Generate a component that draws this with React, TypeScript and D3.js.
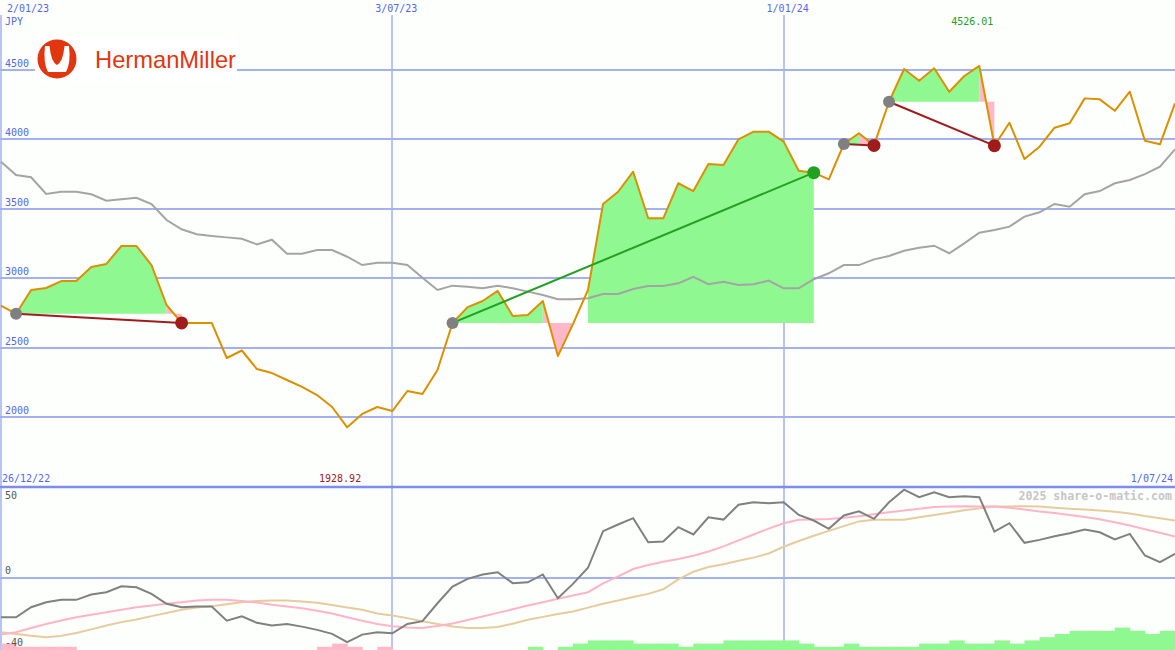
import React from 'react';
import * as d3 from 'd3';

// weekly closes, JPY (Mondays from 2/01/23)
const price = [
  2803, 2745, 2916, 2930, 2980, 2980, 3081, 3103, 3232, 3232,
  3095, 2808, 2679, 2679, 2679, 2427, 2481, 2348, 2319, 2269,
  2219, 2161, 2075, 1928.92, 2025, 2075, 2046, 2190, 2168, 2341,
  2679, 2793, 2837, 2909, 2729, 2736, 2837, 2441, 2671, 2916,
  3534, 3622, 3766, 3431, 3431, 3683, 3627, 3821, 3814, 3999,
  4054, 4054, 3982, 3773, 3759, 3711, 3965, 4042, 3955, 4269,
  4504, 4420, 4509, 4341, 4454, 4526.01, 3953, 4118, 3857, 3946,
  4082, 4114, 4293, 4286, 4204, 4341, 3989, 3963, 4258,
];

const movingAvg = [
  3838, 3742, 3726, 3606, 3622, 3622, 3604, 3558, 3568, 3579,
  3534, 3419, 3352, 3316, 3304, 3294, 3284, 3244, 3277, 3177,
  3177, 3203, 3203, 3155, 3095, 3112, 3112, 3095, 3004, 2916,
  2947, 2940, 2928, 2947, 2928, 2904, 2880, 2849, 2849, 2856,
  2887, 2887, 2923, 2945, 2945, 2964, 3011, 2957, 2975, 2952,
  2957, 2983, 2928, 2928, 2993, 3036, 3095, 3095, 3136, 3160,
  3198, 3220, 3234, 3180, 3251, 3328, 3347, 3371, 3443, 3474,
  3534, 3514, 3604, 3627, 3683, 3706, 3749, 3802, 3927,
];

const oscillator = [
  -21.9, -21.9, -16.4, -13.6, -12.3, -12.3, -9.4, -8.1, -4.8, -5.4,
  -9.0, -14.5, -16.4, -16.0, -16.0, -23.8, -21.4, -25.0, -26.5, -25.6,
  -27.1, -28.9, -31.1, -35.7, -31.5, -30.2, -30.8, -25.6, -24.1, -14.2,
  -5.0, -0.7, 1.7, 2.9, -3.1, -2.6, 1.7, -11.4, -3.5, 5.4,
  25.6, 29.3, 32.8, 19.5, 19.9, 27.8, 23.8, 33.3, 32.0, 40.2,
  41.6, 41.0, 41.6, 34.6, 31.5, 26.9, 34.3, 36.6, 32.4, 41.6,
  48.5, 44.4, 47.1, 44.4, 44.9, 44.4, 25.4, 30.0, 19.2, 20.8,
  22.8, 24.5, 26.5, 25.0, 21.0, 24.1, 12.2, 8.5, 13.1,
];

const signalFast = [
  -31.5, -30.2, -27.9, -25.6, -23.7, -21.9, -20.5, -19.2, -17.8, -16.4,
  -15.4, -14.5, -13.6, -12.7, -12.3, -12.3, -12.9, -13.8, -15.0, -16.0,
  -17.0, -18.3, -19.8, -21.9, -23.9, -25.6, -26.9, -27.6, -27.9, -26.8,
  -25.4, -23.4, -21.5, -19.5, -17.5, -15.4, -13.6, -11.7, -9.9, -8.1,
  -3.2, 0.6, 4.7, 6.9, 8.7, 10.2, 12.0, 14.4, 17.2, 20.5,
  23.8, 27.0, 30.0, 31.9, 32.1, 32.3, 33.0, 33.9, 35.0, 36.0,
  37.0, 38.0, 38.9, 39.2, 39.4, 39.3, 39.2, 38.5, 37.6, 36.5,
  35.6, 34.6, 33.4, 32.2, 30.5, 28.7, 26.7, 24.7, 22.7,
];

const signalSlow = [
  -30.2, -31.1, -32.1, -33.0, -32.2, -30.6, -28.6, -26.5, -24.6, -23.2,
  -21.3, -19.6, -17.8, -16.5, -15.8, -14.7, -13.6, -12.9, -12.7, -12.7,
  -13.2, -13.9, -15.1, -16.5, -17.8, -19.8, -21.0, -22.4, -24.1, -25.7,
  -27.0, -27.9, -27.8, -27.3, -25.5, -23.3, -21.7, -20.1, -18.7, -16.6,
  -14.5, -12.7, -10.7, -9.0, -6.5, -1.0, 3.2, 5.8, 7.4, 9.3,
  11.0, 13.3, 17.0, 20.2, 23.1, 25.8, 28.4, 31.0, 31.9, 31.9,
  31.9, 33.3, 34.6, 35.8, 37.1, 38.2, 39.2, 39.3, 39.4, 39.2,
  38.6, 38.0, 37.6, 37.0, 36.3, 35.4, 34.0, 32.8, 31.5,
];

// bottom strip histogram (negative = pink, positive = green)
const histogram = [
  -2, -1, -1, -1, -1, 0, 0, 0, 0, 0,
  0, 0, 0, 0, 0, 0, 0, 0, 0, 0,
  0, -1, -2, -1, 0, -1, 0, 0, 0, 0,
  0, 0, 0, 0, 0, 1, 0, 1, 2, 3,
  3, 3, 2, 2, 2, 1, 2, 2, 3, 3,
  3, 3, 3, 2, 1, 1, 2, 1, 1, 1,
  1, 2, 2, 3, 2, 2, 3, 2, 3, 4,
  5, 6, 6, 6, 7, 6, 5, 6, 6,
];

// entry / exit week indexes
const trades = [
  { entry: 1, exit: 12 },
  { entry: 30, exit: 54 },
  { entry: 56, exit: 58 },
  { entry: 59, exit: 66 },
];

const dateTicks = ['2023-01-02', '2023-07-03', '2024-01-01'];
const dateTickLabels = ['2/01/23', '3/07/23', '1/01/24'];
const priceTicks = [2000, 2500, 3000, 3500, 4000, 4500];
const oscTicks = [50, 0, -40];

const W = 1175;
const H = 650;
const SPLIT = 487;
const BG = '#fcfffc';
const GRID = '#a3b1f2';
const BLUE_TXT = '#5566ee';
const GREEN = '#90f890';
const PINK = '#ffb8c8';
const LOSS = '#a01c1c';
const WIN = '#22a022';
const MONO = '"DejaVu Sans Mono", monospace';

const start = new Date(2023, 0, 2);
const dates = price.map((_, i) => d3.timeDay.offset(start, i * 7));

export default function App() {
  const x = d3.scaleTime().domain([dates[0], dates[dates.length - 1]]).range([1, W]);
  const yTop = d3.scaleLinear().domain([1500, 5000]).range([SPLIT, 0]);
  const yBot = d3.scaleLinear().domain([-40, 50]).range([H, SPLIT]);
  const hist = d3.scaleLinear().domain([0, 10]).range([0, 32]);

  const topLine = d3.line<number>().x((_, i) => x(dates[i])).y((d) => yTop(d));
  const botLine = d3.line<number>().x((_, i) => x(dates[i])).y((d) => yBot(d));

  // fill between price and entry level, one path per colour so no seams
  const greenPath = d3.path();
  const pinkPath = d3.path();
  trades.forEach((t) => {
    const ep = price[t.entry];
    for (let i = t.entry; i < t.exit; i++) {
      const s = price[i];
      const e = price[i + 1];
      const p = e < ep ? pinkPath : s < ep ? null : greenPath;
      if (!p) continue;
      p.moveTo(x(dates[i]), yTop(s));
      p.lineTo(x(dates[i + 1]), yTop(e));
      p.lineTo(x(dates[i + 1]), yTop(ep));
      p.lineTo(x(dates[i]), yTop(ep));
      p.closePath();
    }
  });

  const hiIdx = price.indexOf(d3.max(price)!);
  const loIdx = price.indexOf(d3.min(price)!);

  return (
    <svg
      width={W}
      height={H}
      style={{ position: 'absolute', left: 0, top: 0, background: BG }}
      fontFamily={MONO}
    >
      <defs>
        <clipPath id="clipTop">
          <rect x={0} y={0} width={W} height={SPLIT - 1} />
        </clipPath>
        <clipPath id="clipBot">
          <rect x={0} y={SPLIT + 1} width={W} height={H - SPLIT} />
        </clipPath>
      </defs>
      <rect width={W} height={H} fill={BG} />

      {/* grid */}
      {dateTicks.map((d) => {
        const xv = Math.round(x(new Date(d + 'T00:00:00')));
        return <line key={d} x1={xv} x2={xv} y1={15} y2={H} stroke={GRID} strokeWidth={1.5} />;
      })}
      {priceTicks.map((v) => (
        <line key={v} x1={0} x2={W} y1={Math.round(yTop(v))} y2={Math.round(yTop(v))} stroke={GRID} strokeWidth={2} />
      ))}
      <line x1={0} x2={W} y1={Math.round(yBot(0))} y2={Math.round(yBot(0))} stroke={GRID} strokeWidth={2} />

      {/* logo */}
      <g>
        <rect x={35} y={36} width={202} height={46} fill="#ffffff" />
        <circle cx={57} cy={59} r={19.5} fill="#e2360f" />
        <path
          d="M45,46 L49.5,46 Q51,62 57,65 Q63,62 64.5,46 L69,46 Q71,63 66,72 L48,72 Q43,63 45,46 Z"
          fill="#ffffff"
        />
        <text x={95} y={68} fontFamily='"Liberation Sans", Arial, sans-serif' fontSize={24} fill="#e2360f" textLength={141} lengthAdjust="spacingAndGlyphs">
          HermanMiller
        </text>
      </g>

      {/* top panel */}
      <g clipPath="url(#clipTop)">
        <path d={greenPath.toString()} fill={GREEN} />
        <path d={pinkPath.toString()} fill={PINK} />
        <path d={topLine(movingAvg)!} fill="none" stroke="#a4a4a4" strokeWidth={2} />
        <path d={topLine(price)!} fill="none" stroke="#dc9000" strokeWidth={2} strokeLinejoin="round" />
        {trades.map((t, i) => {
          const win = price[t.exit] > price[t.entry];
          return (
            <line
              key={i}
              x1={x(dates[t.entry])}
              y1={yTop(price[t.entry])}
              x2={x(dates[t.exit])}
              y2={yTop(price[t.exit])}
              stroke={win ? WIN : LOSS}
              strokeWidth={2}
            />
          );
        })}
        {trades.map((t, i) => {
          const win = price[t.exit] > price[t.entry];
          return (
            <g key={i}>
              <circle cx={x(dates[t.entry])} cy={yTop(price[t.entry])} r={6} fill="#808080" />
              <circle cx={x(dates[t.exit])} cy={yTop(price[t.exit])} r={6.5} fill={win ? WIN : LOSS} />
            </g>
          );
        })}
      </g>

      {/* bottom panel */}
      <g clipPath="url(#clipBot)">
        {histogram.map((v, i) =>
          v === 0 ? null : (
            <rect
              key={i}
              x={x(dates[i])}
              width={x(dates[Math.min(i + 1, dates.length - 1)]) - x(dates[i]) + 0.5 || 15}
              y={H - hist(Math.abs(v))}
              height={hist(Math.abs(v))}
              fill={v > 0 ? GREEN : PINK}
            />
          )
        )}
        <path d={botLine(signalSlow)!} fill="none" stroke="#e6cc9c" strokeWidth={2} />
        <path d={botLine(signalFast)!} fill="none" stroke="#ffb4c8" strokeWidth={2} />
        <path d={botLine(oscillator)!} fill="none" stroke="#808080" strokeWidth={2} />
      </g>

      <line x1={0} x2={W} y1={SPLIT} y2={SPLIT} stroke="#7d8cf0" strokeWidth={2.5} />

      {/* texts */}
      {dateTicks.map((d, i) => {
        const xv = x(new Date(d + 'T00:00:00'));
        return (
          <text key={d} x={i === 0 ? 7 : xv + 4} y={12} fontSize={10} fill={BLUE_TXT} textAnchor={i === 0 ? 'start' : 'middle'}>
            {dateTickLabels[i]}
          </text>
        );
      })}
      <text x={5} y={25} fontSize={10} fill={BLUE_TXT}>JPY</text>
      {priceTicks.map((v) => (
        <text key={v} x={5} y={Math.round(yTop(v)) - 3} fontSize={10} fill={BLUE_TXT}>
          {v}
        </text>
      ))}
      <text x={x(dates[hiIdx]) + 14} y={25} fontSize={10} fill={WIN} textAnchor="end">
        {price[hiIdx].toFixed(2)}
      </text>
      <text x={x(dates[loIdx]) + 14} y={482} fontSize={10} fill={LOSS} textAnchor="end">
        {price[loIdx].toFixed(2)}
      </text>
      <text x={2} y={482} fontSize={10} fill={BLUE_TXT}>26/12/22</text>
      <text x={1173} y={482} fontSize={10} fill={BLUE_TXT} textAnchor="end">1/07/24</text>
      <text x={5} y={499} fontSize={10} fill="#555555">{oscTicks[0]}</text>
      <text x={5} y={574} fontSize={10} fill="#555555">{oscTicks[1]}</text>
      <text x={5} y={646} fontSize={10} fill="#555555">{oscTicks[2]}</text>
      <text x={1172} y={500} fontSize={11.6} fontWeight="bold" fill="#c6c6c6" textAnchor="end">
        2025 share-o-matic.com
      </text>
    </svg>
  );
}
